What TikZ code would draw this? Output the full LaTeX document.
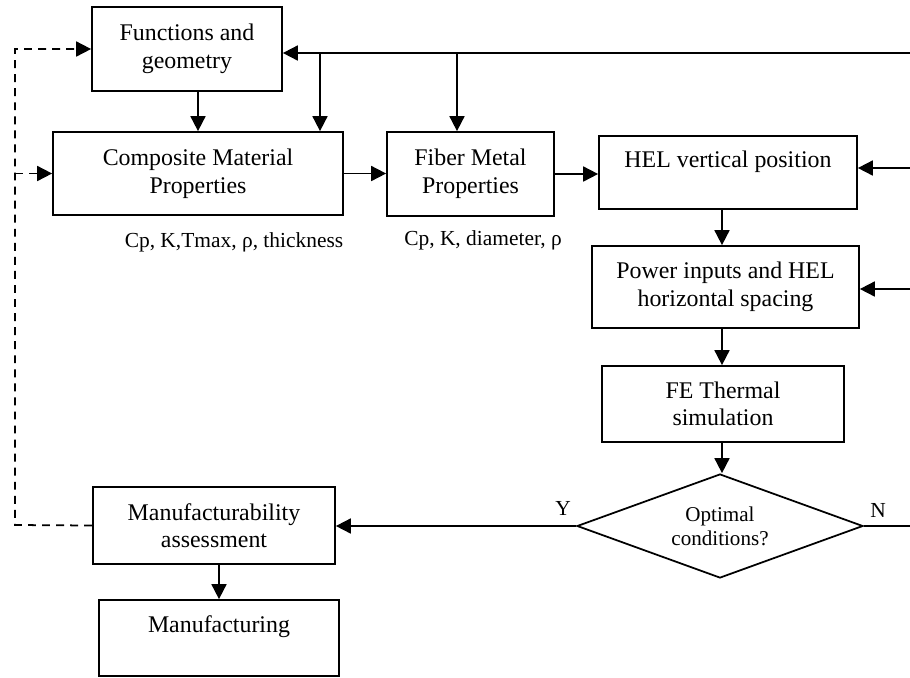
\documentclass[tikz,border=0pt]{standalone}
\usepackage{fontspec}
\setmainfont{Liberation Serif}
\usetikzlibrary{arrows.meta}
\usetikzlibrary{shapes.geometric}

\begin{document}
\begin{tikzpicture}[x=0.02cm, y=-0.02cm,
        box/.style={draw, line width=1pt, align=center, inner sep=0pt, font=\fontsize{13.6}{15.7}\selectfont},
        decision/.style={draw, diamond, line width=1pt, aspect=2.75, inner sep=0pt, minimum width=5.72cm, minimum height=2.08cm, align=center, font=\fontsize{12}{13.8}\selectfont},
        note/.style={font=\fontsize{12.2}{14}\selectfont},
        flow/.style={line width=1pt, -{Triangle[length=0.3cm, width=0.3cm]}},
        back/.style={flow, dash pattern=on 4.5pt off 3.5pt}]
        \useasboundingbox (0, 0) rectangle (910, 677);
        \node [box, minimum width=3.8cm, minimum height=1.68cm] (func) at (187, 49) {Functions and\\geometry};
        \node [box, minimum width=5.8cm, minimum height=1.66cm] (comp) at (198, 173.5) {Composite Material\\Properties};
        \node [box, minimum width=3.34cm, minimum height=1.68cm] (fiber) at (470.5, 174) {Fiber Metal\\Properties};
        \node [box, minimum width=5.16cm, minimum height=1.46cm] (hel) at (728, 172.5) {HEL vertical position\\\mbox{}};
        \node [box, minimum width=5.34cm, minimum height=1.64cm] (power) at (725.5, 287) {Power inputs and HEL\\horizontal spacing};
        \node [box, minimum width=4.84cm, minimum height=1.52cm] (fe) at (723, 404) {FE Thermal\\simulation};
        \node [decision] (opt) at (720, 526) {Optimal\\conditions?};
        \node [box, minimum width=4.84cm, minimum height=1.54cm] (assess) at (214, 525.5) {Manufacturability\\assessment};
        \node [box, minimum width=4.8cm, minimum height=1.52cm] (manuf) at (219, 638) {Manufacturing\\\mbox{}};
        \node [note] (complab) at (234, 242) {Cp, K,Tmax, ρ, thickness};
        \node [note] (fiberlab) at (483, 240) {Cp, K, diameter, ρ};
        \node [note] (ylab) at (563, 508) {Y};
        \node [note] (nlab) at (878, 510) {N};
        \coordinate (col) at (722, 0);
        \coordinate (topin) at (910, 53);
        \coordinate (br1) at (320, 53);
        \coordinate (br2) at (457, 53);
        \coordinate (helin) at (910, 168);
        \coordinate (powin) at (910, 289);
        \coordinate (nout) at (910, 526);
        \coordinate (loop) at (15, 525);
        \draw [flow] (topin) -- (topin -| func.east);
        \draw [flow] (br1) -- (br1 |- comp.north);
        \draw [flow] (br2) -- (br2 |- fiber.north);
        \draw [flow] (func.south -| comp.north) -- (comp.north);
        \draw [flow] (comp.east) -- (comp.east -| fiber.west);
        \draw [flow] (fiber.east) -- (fiber.east -| hel.west);
        \draw [flow] (helin) -- (helin -| hel.east);
        \draw [flow] (powin) -- (powin -| power.east);
        \draw [flow] (hel.south -| col) -- (power.north -| col);
        \draw [flow] (power.south -| col) -- (fe.north -| col);
        \draw [flow] (fe.south -| col) -- (opt.north -| col);
        \draw [flow] (opt.west) -- (opt.west -| assess.east);
        \draw [line width=1pt] (opt.east) -- (nout);
        \draw [flow] (assess.south -| manuf.north) -- (manuf.north);
        \draw [back] (assess.west) -- (loop) -- (loop |- func.west) -- (func.west);
        \draw [back] (loop |- comp.west) -- (comp.west);
    \end{tikzpicture}
\end{document}
